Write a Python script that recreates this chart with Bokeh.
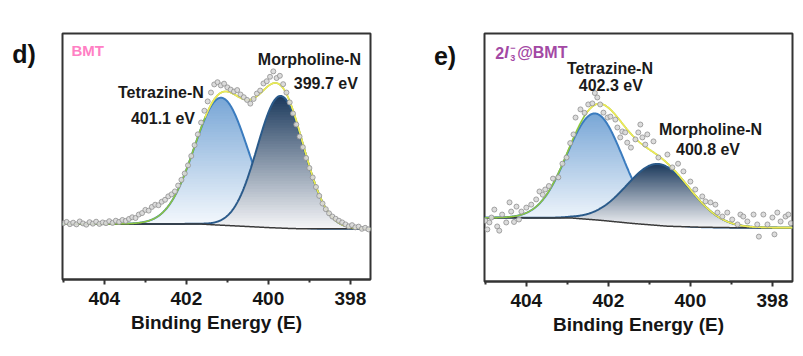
import numpy as np
from bokeh.plotting import figure
from bokeh.layouts import row
from bokeh.models import Range1d, FixedTicker
from bokeh.core.properties import value
from bokeh.embed import file_html
from bokeh.resources import INLINE

# ---------------- panel d) BMT ----------------
d_energy = [405.00, 404.92, 404.84, 404.76, 404.68, 404.60, 404.52, 404.44, 404.36, 404.28,
            404.20, 404.12, 404.04, 403.96, 403.88, 403.80, 403.72, 403.64, 403.56, 403.48,
            403.40, 403.32, 403.24, 403.16, 403.08, 403.00, 402.92, 402.84, 402.76, 402.68,
            402.60, 402.52, 402.44, 402.36, 402.28, 402.20, 402.12, 402.04, 401.96, 401.88,
            401.80, 401.72, 401.64, 401.56, 401.48, 401.40, 401.32, 401.24, 401.16, 401.08,
            401.00, 400.92, 400.84, 400.76, 400.68, 400.60, 400.52, 400.44, 400.36, 400.28,
            400.20, 400.12, 400.04, 399.96, 399.88, 399.80, 399.72, 399.64, 399.56, 399.48,
            399.40, 399.32, 399.24, 399.16, 399.08, 399.00, 398.92, 398.84, 398.76, 398.68,
            398.60, 398.52, 398.44, 398.36, 398.28, 398.20, 398.12, 398.04, 397.96, 397.88,
            397.80, 397.72, 397.64, 397.56]
d_counts = [22.9, 23.4, 22.5, 23.1, 22.4, 23.6, 22.8, 22.3, 23.3, 22.7,
            23.5, 22.6, 23.2, 22.9, 23.7, 23.0, 23.9, 23.4, 24.2, 23.8,
            24.6, 25.3, 25.0, 26.4, 27.0, 28.3, 28.0, 29.5, 30.4, 30.2,
            31.6, 32.4, 33.8, 34.6, 35.8, 38.2, 40.5, 43.1, 46.4, 50.2,
            54.6, 59.0, 63.8, 68.6, 72.4, 76.0, 79.3, 80.2, 78.9, 79.6,
            78.1, 77.2, 76.4, 77.0, 75.2, 74.1, 73.0, 71.5, 73.4, 75.6,
            76.8, 79.7, 80.6, 82.4, 84.6, 81.9, 82.8, 79.4, 76.0, 72.0,
            67.5, 63.0, 58.1, 53.8, 49.4, 45.3, 41.5, 37.6, 34.0, 30.9,
            28.6, 26.9, 25.6, 24.7, 23.9, 23.2, 22.4, 21.6, 22.1, 21.2,
            21.5, 20.6, 21.0, 20.4]
d_peak_labels = ["Tetrazine-N", "Morpholine-N"]
d_peak_ev = ["401.1 eV", "399.7 eV"]
d_centers = [401.15, 399.70]
d_heights = [51.8, 53.7]
d_sigmas = [0.65, 0.57]
d_bg_energy = [405.02, 401.70, 401.30, 400.70, 400.00, 399.40, 399.00, 397.51]
d_bg_level = [22.6, 22.6, 22.2, 21.7, 21.1, 20.7, 20.6, 20.6]

# ---------------- panel e) 2I3-@BMT ----------------
e_energy = [405.00, 404.95, 404.90, 404.85, 404.78, 404.71, 404.66, 404.59, 404.49, 404.41,
            404.37, 404.30, 404.24, 404.18, 404.12, 404.00, 403.88, 403.76, 403.68, 403.60,
            403.54, 403.45, 403.35, 403.22, 403.12, 403.02, 402.93, 402.85, 402.80, 402.68,
            402.58, 402.49, 402.39, 402.33, 402.27, 402.20, 402.12, 402.02, 401.95, 401.83,
            401.78, 401.71, 401.66, 401.59, 401.54, 401.45, 401.34, 401.27, 401.22, 401.17,
            401.10, 401.05, 400.90, 400.78, 400.56, 400.44, 400.30, 400.17, 400.00, 399.88,
            399.71, 399.63, 399.51, 399.39, 399.34, 399.22, 399.10, 398.98, 398.85, 398.78,
            398.71, 398.61, 398.46, 398.37, 398.33, 398.22, 398.12, 398.00, 397.95, 397.88,
            397.80, 397.68, 397.61, 397.55]
e_counts = [24.5, 21.0, 23.8, 25.8, 29.0, 22.2, 20.5, 27.0, 23.8, 31.9,
            28.2, 24.0, 30.2, 25.0, 28.2, 29.8, 31.0, 33.1, 36.3, 35.0,
            37.1, 38.5, 41.5, 42.0, 47.5, 50.0, 55.8, 59.3, 66.1, 69.4,
            68.0, 71.4, 71.8, 76.0, 74.2, 71.4, 68.1, 66.1, 66.5, 65.3,
            62.1, 58.1, 60.5, 60.1, 56.0, 54.0, 57.3, 60.1, 63.3, 58.1,
            55.2, 59.3, 56.5, 50.0, 51.2, 46.0, 47.5, 44.4, 40.3, 37.1,
            34.3, 32.3, 31.9, 31.0, 27.8, 26.2, 27.8, 25.0, 23.0, 27.0,
            26.2, 24.2, 27.0, 23.0, 18.1, 27.0, 23.0, 25.8, 19.0, 27.8,
            24.2, 26.2, 27.0, 23.5]
e_peak_labels = ["Tetrazine-N", "Morpholine-N"]
e_peak_ev = ["402.3 eV", "400.8 eV"]
e_centers = [402.32, 400.78]
e_heights = [42.9, 24.8]
e_sigmas = [0.68, 0.78]
e_bg_energy = [405.02, 402.90, 402.20, 401.40, 400.56, 399.76, 398.95, 397.51]
e_bg_level = [25.7, 25.6, 24.7, 23.4, 22.3, 21.9, 21.7, 21.7]

x_ticks = [404, 402, 400, 398]
x_minor = [405, 403, 401, 399]

FONT = "Liberation Sans"
TOP_COLORS = ["#78a6d6", "#1b395c"]
BOTTOM_COLORS = ["#f8fbfe", "#f6f6f8"]
LINE_COLORS = ["#3b7cbf", "#2a5a8a"]
FIG_H = 344


def hex2rgb(h):
    h = h.lstrip("#")
    return tuple(int(h[i:i + 2], 16) for i in (0, 2, 4))


def mix(c0, c1, t):
    a, b = hex2rgb(c0), hex2rgb(c1)
    return "#%02x%02x%02x" % tuple(int(round(a[i] + (b[i] - a[i]) * t)) for i in range(3))


def gradient_fill(p, x, base, top, c_top, c_bot, n=50):
    lo, hi = base.min(), top.max()
    edges = np.linspace(lo, hi, n + 1)
    h = edges[1] - edges[0]
    for k in range(n):
        a, b = edges[k], edges[k + 1]
        y1 = np.maximum(base, a)
        y2 = np.maximum(np.minimum(top, b + 0.7 * h), y1)
        t = (k + 0.5) / n
        p.varea(x=x, y1=y1, y2=y2, fill_color=mix(c_bot, c_top, t), fill_alpha=1.0)


def make_panel(energy, counts, centers, heights, sigmas, bg_e, bg_l,
               frame_h, border_l, border_r, border_t, yellow_max_e):
    p = figure(frame_width=308, frame_height=frame_h,
               x_range=Range1d(405.02, 397.51), y_range=Range1d(0, 100),
               output_backend="svg", toolbar_location=None, y_axis_location=None,
               min_border_left=border_l, min_border_right=border_r,
               min_border_top=border_t, min_border_bottom=FIG_H - border_t - frame_h)
    p.xgrid.visible = False
    p.ygrid.visible = False
    p.outline_line_color = "#333333"
    p.outline_line_width = 2
    p.background_fill_color = "white"
    p.border_fill_color = "white"

    ax = p.xaxis[0]
    ax.ticker = FixedTicker(ticks=x_ticks, minor_ticks=x_minor)
    ax.axis_line_color = "#333333"
    ax.axis_line_width = 2
    ax.major_tick_line_color = "#333333"
    ax.major_tick_line_width = 2
    ax.major_tick_out = 5
    ax.major_tick_in = 0
    ax.minor_tick_line_color = "#333333"
    ax.minor_tick_line_width = 2
    ax.minor_tick_out = 3
    ax.minor_tick_in = 0
    ax.major_label_text_font = FONT
    ax.major_label_text_font_style = "bold"
    ax.major_label_text_font_size = "19px"
    ax.major_label_text_color = "#151515"
    ax.major_label_standoff = 7
    ax.axis_label = "Binding Energy (E)"
    ax.axis_label_text_font = FONT
    ax.axis_label_text_font_style = "bold"
    ax.axis_label_text_font_size = "19px"
    ax.axis_label_text_color = "#151515"
    ax.axis_label_standoff = 4

    x = np.linspace(397.51, 405.02, 751)
    base = np.interp(x, bg_e[::-1], bg_l[::-1])
    comps = [hgt * np.exp(-(x - c) ** 2 / (2 * s ** 2))
             for c, hgt, s in zip(centers, heights, sigmas)]
    for i, comp in enumerate(comps):
        gradient_fill(p, x, base, base + comp, TOP_COLORS[i], BOTTOM_COLORS[i])
        p.line(x, base + comp, line_color=LINE_COLORS[i], line_width=2)
    p.line(x, base, line_color="#3a3a3a", line_width=1.5)
    env = base + sum(comps)
    p.line(x, env, line_color="#8dc63f", line_width=1.6)
    env_y = np.where(x <= yellow_max_e, env, np.nan)
    p.line(x, env_y, line_color="#f0e858", line_width=1.6)
    p.scatter(energy, counts, size=5, marker="circle", fill_color="#d8d8d8",
              line_color="#8f8f8f", line_width=0.8, fill_alpha=0.9)
    return p


def txt(p, x, y, s, size="16px", color="#1a1a1a", align="center", style="bold",
        x_off=0, y_off=0):
    p.text(x=[x], y=[y], text=[s], text_font=value(FONT), text_font_style=style,
           text_font_size=size, text_color=color, text_align=align,
           text_baseline="middle", x_offset=x_off, y_offset=y_off)


def letter_fig(width, s, cx, cy):
    f = figure(width=width, height=FIG_H, x_range=Range1d(0, width), y_range=Range1d(FIG_H, 0),
               output_backend="svg", toolbar_location=None,
               x_axis_location=None, y_axis_location=None,
               min_border=0, min_border_left=0, min_border_right=0,
               min_border_top=0, min_border_bottom=0)
    f.xgrid.visible = False
    f.ygrid.visible = False
    f.outline_line_color = None
    f.background_fill_color = "white"
    f.border_fill_color = "white"
    txt(f, cx, cy, s, size="25px", color="#111111")
    return f


# panel d
p1 = make_panel(d_energy, d_counts, d_centers, d_heights, d_sigmas, d_bg_energy, d_bg_level,
                246, 12, 30, 33, 401.55)
txt(p1, 402.62, 76.0, d_peak_labels[0])
txt(p1, 402.57, 65.4, d_peak_ev[0])
txt(p1, 399.00, 89.4, d_peak_labels[1])
txt(p1, 398.60, 79.7, d_peak_ev[1])
txt(p1, 404.80, 93.1, "BMT", size="15px", color="#ff80c4", align="left")

# panel e
p2 = make_panel(e_energy, e_counts, e_centers, e_heights, e_sigmas, e_bg_energy, e_bg_level,
                248, 24, 3, 30, 402.55)
txt(p2, 401.96, 85.8, e_peak_labels[0])
txt(p2, 401.94, 78.9, e_peak_ev[0])
txt(p2, 399.51, 61.3, e_peak_labels[1])
txt(p2, 399.57, 53.2, e_peak_ev[1])
purple = "#a349a4"
txt(p2, 404.76, 92.3, "2", size="16px", color=purple, align="left")
txt(p2, 404.76, 92.3, "I", size="16px", color=purple, align="left", style="bold italic", x_off=9)
txt(p2, 404.76, 92.3, "\u2212", size="9px", color=purple, align="left", x_off=15, y_off=-5)
txt(p2, 404.76, 92.3, "3", size="9px", color=purple, align="left", x_off=15, y_off=5)
txt(p2, 404.76, 92.3, "@BMT", size="16px", color=purple, align="left", x_off=22)

fd = letter_fig(50, "d)", 23.5, 29)
fe = letter_fig(60, "e)", 44.5, 31)

layout = row(fd, p1, fe, p2)
open("out.html", "w").write(file_html(layout, INLINE))
